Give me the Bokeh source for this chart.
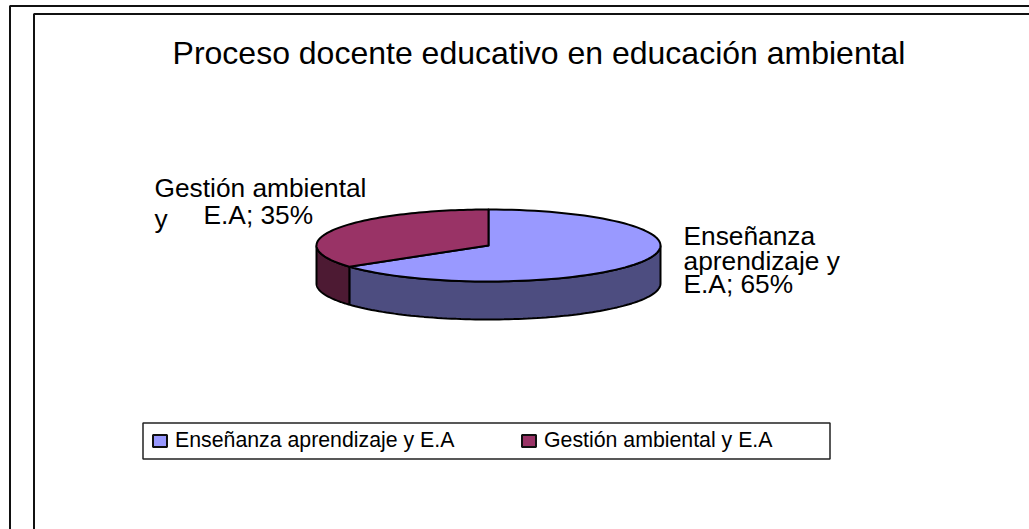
import math
from bokeh.plotting import figure
from bokeh.embed import file_html
from bokeh.resources import INLINE
from bokeh.core.properties import value

title_text = "Proceso docente educativo en educación ambiental"
categories = ["Enseñanza aprendizaje y E.A", "Gestión ambiental y E.A"]
values = [65, 35]
top_colors = ["#9999FF", "#993366"]
side_colors = ["#4D4D80", "#4D1A33"]
label_lines = [["Enseñanza", "aprendizaje y", "E.A; 65%"],
               ["Gestión ambiental", "E.A; 35%", "y"]]
label_x = [[683, 683, 683], [154, 203, 154]]
label_y = [[245, 270, 293], [197, 224, 228]]

W, H = 1029, 529
CX, CY, RX, RY, DEPTH = 488, 245, 172, 36, 38
FONT = value("Liberation Sans")
BASE = 0.38  # rendered baseline sits this many font sizes below the anchor

p = figure(width=W, height=H, x_range=(0, W), y_range=(H, 0),
           toolbar_location=None, output_backend="svg", min_border=0,
           outline_line_color=None, background_fill_color="white",
           border_fill_color="white")
p.axis.visible = False
p.grid.visible = False

# Page frames
p.line([9.5, 9.5, W], [H, 5.5, 5.5], line_color="#111111", line_width=2)
p.line([33.5, 33.5, W], [H, 13.5, 13.5], line_color="#111111", line_width=2)

def pt(theta, dy=0.0):
    return CX + RX * math.sin(theta), CY - RY * math.cos(theta) + dy

def arc(a, b, dy=0.0, n=90):
    return [pt(a + (b - a) * i / n, dy) for i in range(n + 1)]

total = sum(values)
angles = [0.0]
for v in values:
    angles.append(angles[-1] + 2 * math.pi * v / total)

# Side walls (only the part facing the viewer: from 3 o'clock to 9 o'clock)
for i in range(len(values)):
    a = max(angles[i], math.pi / 2)
    b = min(angles[i + 1], 3 * math.pi / 2)
    if b > a:
        upper = arc(a, b)
        lower = arc(b, a, DEPTH)
        pts = upper + lower
        p.patch([q[0] for q in pts], [q[1] for q in pts],
                fill_color=side_colors[i], line_color="black", line_width=2)

# Top face slices
for i in range(len(values)):
    pts = [(CX, CY)] + arc(angles[i], angles[i + 1])
    p.patch([q[0] for q in pts], [q[1] for q in pts],
            fill_color=top_colors[i], line_color="black", line_width=2,
            line_join="round")

p.text([538.5], [65 - BASE * 32], text=[title_text], text_font=FONT, text_font_size="32px",
       text_color="black", text_align="center", text_baseline="alphabetic")

for lines, xs, ys in zip(label_lines, label_x, label_y):
    p.text(xs, [y - BASE * 26.3 for y in ys], text=lines, text_font=FONT, text_font_size="26.3px",
           text_color="black", text_align="left", text_baseline="alphabetic")

# Legend
p.quad(left=[142.5], right=[829.5], top=[422.5], bottom=[458.5],
       fill_color="white", line_color="#222222", line_width=1.5)
swatch_x = [152, 521]
for sx, c, name in zip(swatch_x, top_colors, categories):
    p.quad(left=[sx + .5], right=[sx + 14.5], top=[434.5], bottom=[446.5],
           fill_color=c, line_color="#111111", line_width=2)
    p.text([sx + 22.5], [448 - BASE * 21.3], text=[name], text_font=FONT, text_font_size="21.3px",
           text_color="black", text_align="left", text_baseline="alphabetic")

html = file_html(p, INLINE)
html = html.replace("<head>", "<head><style>html,body{margin:0;padding:0;overflow:hidden}</style>", 1)
open("out.html", "w").write(html)
